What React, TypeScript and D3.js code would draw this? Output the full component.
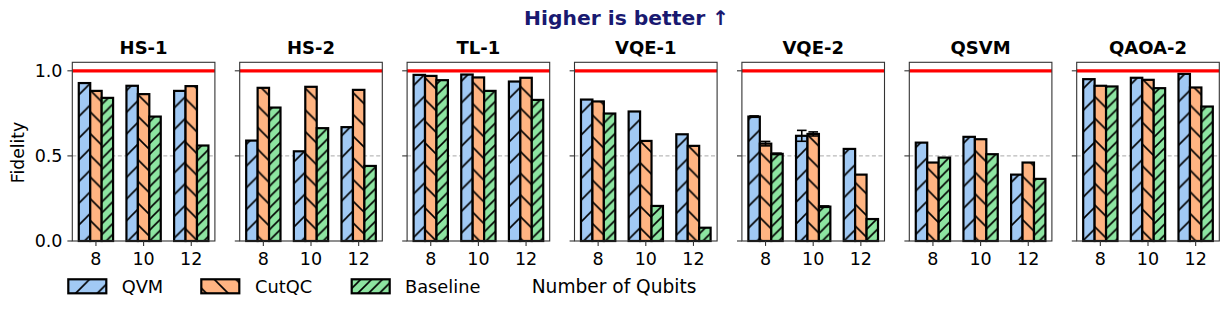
import React from "react";
import * as d3 from "d3";

const panels = ["HS-1", "HS-2", "TL-1", "VQE-1", "VQE-2", "QSVM", "QAOA-2"];
const qubits = ["8", "10", "12"];
const seriesNames = ["QVM", "CutQC", "Baseline"];

const qvm = [
  [0.928, 0.912, 0.882],
  [0.59, 0.527, 0.669],
  [0.976, 0.978, 0.937],
  [0.831, 0.761, 0.627],
  [0.731, 0.618, 0.541],
  [0.578, 0.612, 0.39],
  [0.951, 0.959, 0.982],
];
const cutqc = [
  [0.882, 0.863, 0.91],
  [0.9, 0.906, 0.888],
  [0.97, 0.961, 0.959],
  [0.82, 0.588, 0.559],
  [0.572, 0.629, 0.39],
  [0.461, 0.598, 0.461],
  [0.912, 0.947, 0.902],
];
const baseline = [
  [0.841, 0.731, 0.561],
  [0.784, 0.663, 0.441],
  [0.945, 0.882, 0.829],
  [0.749, 0.206, 0.078],
  [0.512, 0.202, 0.129],
  [0.49, 0.51, 0.365],
  [0.908, 0.898, 0.79],
];
const qvmErr = [[0, 0, 0], [0, 0, 0], [0, 0, 0], [0, 0, 0], [0.004, 0.032, 0], [0, 0, 0], [0, 0, 0]];
const cutqcErr = [[0, 0, 0], [0, 0, 0], [0, 0, 0], [0, 0, 0], [0.013, 0.012, 0], [0, 0, 0], [0, 0, 0]];
const baselineErr = [[0, 0, 0], [0, 0, 0], [0, 0, 0], [0, 0, 0], [0.004, 0.004, 0], [0, 0, 0], [0, 0, 0]];

const yTicks = [0, 0.5, 1.0];

const colors = ["#a1c9f4", "#ffb482", "#8de5a1"];
const hatchIds = ["hatchQVM", "hatchCut", "hatchBase"];

const W = 1229;
const H = 314;
const panelLeft0 = 72.3;
const panelStep = 167.4;
const panelW = 142.6;
const top = 62.3;
const bottom = 241;
const barW = 0.24;
const FONT = "DejaVu Sans, Liberation Sans, sans-serif";

export default function App() {
  const allVals = [qvm, cutqc, baseline];
  const allErr = [qvmErr, cutqcErr, baselineErr];
  const y = d3.scaleLinear().domain([0, 1.05]).range([bottom, top]);
  const lo = -barW * 1.5;
  const hi = 2 + barW * 1.5;
  const m = (hi - lo) * 0.05;

  const h1 = 21.7;
  const h2 = h1 / 2;
  const hw = 1.6;

  return (
    <svg
      width={W}
      height={H}
      style={{ position: "absolute", left: 0, top: 0, display: "block", background: "#fff" }}
      fontFamily={FONT}
    >
      <defs>
        <pattern id={hatchIds[0]} patternUnits="userSpaceOnUse" width={h1} height={h1}>
          <rect width={h1} height={h1} fill={colors[0]} />
          <path d={`M${-1},1 L1,${-1} M0,${h1} L${h1},0 M${h1 - 1},${h1 + 1} L${h1 + 1},${h1 - 1}`} stroke="#000" strokeWidth={hw} />
        </pattern>
        <pattern id={hatchIds[1]} patternUnits="userSpaceOnUse" width={h1} height={h1}>
          <rect width={h1} height={h1} fill={colors[1]} />
          <path d={`M${-1},${h1 - 1} L1,${h1 + 1} M0,0 L${h1},${h1} M${h1 - 1},${-1} L${h1 + 1},1`} stroke="#000" strokeWidth={hw} />
        </pattern>
        <pattern id={hatchIds[2]} patternUnits="userSpaceOnUse" width={h2} height={h2}>
          <rect width={h2} height={h2} fill={colors[2]} />
          <path d={`M${-1},1 L1,${-1} M0,${h2} L${h2},0 M${h2 - 1},${h2 + 1} L${h2 + 1},${h2 - 1}`} stroke="#000" strokeWidth={hw} />
        </pattern>
      </defs>

      <text x={626.7} y={25} textAnchor="middle" fontSize={20.3} fontWeight="bold" fill="#191970">
        Higher is better ↑
      </text>

      {panels.map((name, p) => {
        const left = panelLeft0 + p * panelStep;
        const x = d3.scaleLinear().domain([lo - m, hi + m]).range([left, left + panelW]);
        return (
          <g key={name}>
            <text x={left + panelW / 2} y={54.3} textAnchor="middle" fontSize={18} fontWeight="bold" fill="#000">
              {name}
            </text>
            <line x1={left} x2={left + panelW} y1={y(0.5)} y2={y(0.5)} stroke="#a8a8a8" strokeWidth={1} strokeDasharray="4,2.5" />
            {qubits.map((q, i) =>
              allVals.map((vals, s) => {
                const v = vals[p][i];
                const cx = i + (s - 1) * barW;
                const x0 = x(cx - barW / 2);
                const x1 = x(cx + barW / 2);
                return (
                  <rect
                    key={`${q}-${s}`}
                    x={x0}
                    y={y(v)}
                    width={x1 - x0}
                    height={y(0) - y(v)}
                    fill={`url(#${hatchIds[s]})`}
                    stroke="#000"
                    strokeWidth={2.2}
                  />
                );
              })
            )}
            {qubits.map((q, i) =>
              allVals.map((vals, s) => {
                const e = allErr[s][p][i];
                if (!e) return null;
                const v = vals[p][i];
                const cx = x(i + (s - 1) * barW);
                const cap = 4.8;
                return (
                  <g key={`e${q}-${s}`} stroke="#000" strokeWidth={1.6}>
                    <line x1={cx} x2={cx} y1={y(v - e)} y2={y(v + e)} />
                    <line x1={cx - cap} x2={cx + cap} y1={y(v - e)} y2={y(v - e)} />
                    <line x1={cx - cap} x2={cx + cap} y1={y(v + e)} y2={y(v + e)} />
                  </g>
                );
              })
            )}
            <line x1={left} x2={left + panelW} y1={y(1)} y2={y(1)} stroke="#ff0000" strokeWidth={3.2} />
            <rect x={left} y={top} width={panelW} height={bottom - top} fill="none" stroke="#333" strokeWidth={1.1} />
            {yTicks.map((t) => (
              <g key={t}>
                <line x1={left - 4.9} x2={left} y1={y(t)} y2={y(t)} stroke="#333" strokeWidth={1.1} />
                {p === 0 && (
                  <text x={left - 9.8} y={y(t)} dy="0.36em" textAnchor="end" fontSize={17.5} fill="#000">
                    {t.toFixed(1)}
                  </text>
                )}
              </g>
            ))}
            {qubits.map((q, i) => (
              <g key={q}>
                <line x1={x(i)} x2={x(i)} y1={bottom} y2={bottom + 4.9} stroke="#333" strokeWidth={1.1} />
                <text x={x(i)} y={265.3} textAnchor="middle" fontSize={17.5} fill="#000">
                  {q}
                </text>
              </g>
            ))}
          </g>
        );
      })}

      <text transform={`translate(24,152.5) rotate(-90)`} textAnchor="middle" fontSize={17.2} fill="#000">
        Fidelity
      </text>

      {seriesNames.map((s, k) => {
        const px = [68.3, 201.3, 351.7][k];
        const tx = [121.7, 255, 405][k];
        return (
          <g key={s}>
            <rect x={px} y={279.3} width={38} height={14} fill={`url(#${hatchIds[k]})`} stroke="#000" strokeWidth={2.2} />
            <text x={tx} y={292.7} fontSize={17.8} fill="#000">
              {s}
            </text>
          </g>
        );
      })}
      <text x={531.7} y={293.3} fontSize={18.6} fill="#000">
        Number of Qubits
      </text>
    </svg>
  );
}
